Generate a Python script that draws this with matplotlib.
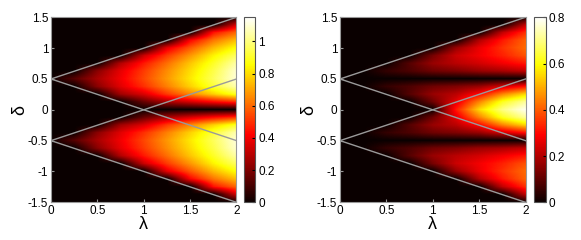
import numpy as np
import matplotlib
matplotlib.use("Agg")
import matplotlib.pyplot as plt

plt.rcParams["font.family"] = ["Liberation Sans", "DejaVu Sans"]

lam = [0, 0.25, 0.5, 0.75, 1.0, 1.25, 1.5, 1.75, 2.0]
delta = [1.5, 1.375, 1.25, 1.125, 1.0, 0.875, 0.75, 0.625, 0.5, 0.375, 0.25, 0.125, 0.0,
         -0.125, -0.25, -0.375, -0.5, -0.625, -0.75, -0.875, -1.0, -1.125, -1.25, -1.375, -1.5]

# left panel (rows: delta from 1.5 down to -1.5, cols: lambda 0..2)
left_vals = [
    [0, 0, 0,    0,    0,    0,    0,    0,    0],
    [0, 0, 0,    0,    0,    0,    0,    0,    0.35],
    [0, 0, 0,    0,    0,    0,    0,    0.45, 0.60],
    [0, 0, 0,    0,    0,    0,    0.42, 0.62, 0.75],
    [0, 0, 0,    0,    0,    0.38, 0.57, 0.74, 0.87],
    [0, 0, 0,    0,    0.33, 0.52, 0.68, 0.84, 0.97],
    [0, 0, 0,    0.29, 0.46, 0.61, 0.76, 0.90, 1.05],
    [0, 0, 0.22, 0.38, 0.52, 0.66, 0.80, 0.94, 1.10],
    [0, 0.13, 0.27, 0.40, 0.54, 0.68, 0.82, 0.96, 1.11],
    [0, 0, 0.22, 0.37, 0.50, 0.64, 0.78, 0.92, 1.06],
    [0, 0, 0,    0.26, 0.36, 0.52, 0.65, 0.78, 0.90],
    [0, 0, 0,    0,    0.16, 0.27, 0.35, 0.43, 0.50],
    [0, 0, 0,    0,    0,    0,    0,    0,    0],
    [0, 0, 0,    0,    0.16, 0.27, 0.35, 0.43, 0.50],
    [0, 0, 0,    0.26, 0.36, 0.52, 0.65, 0.78, 0.90],
    [0, 0, 0.22, 0.37, 0.50, 0.64, 0.78, 0.92, 1.06],
    [0, 0.13, 0.27, 0.40, 0.54, 0.68, 0.82, 0.96, 1.11],
    [0, 0, 0.22, 0.38, 0.52, 0.66, 0.80, 0.94, 1.10],
    [0, 0, 0,    0.29, 0.46, 0.61, 0.76, 0.90, 1.05],
    [0, 0, 0,    0,    0.33, 0.52, 0.68, 0.84, 0.97],
    [0, 0, 0,    0,    0,    0.38, 0.57, 0.74, 0.87],
    [0, 0, 0,    0,    0,    0,    0.42, 0.62, 0.75],
    [0, 0, 0,    0,    0,    0,    0,    0.45, 0.60],
    [0, 0, 0,    0,    0,    0,    0,    0,    0.35],
    [0, 0, 0,    0,    0,    0,    0,    0,    0],
]

# right panel
right_vals = [
    [0, 0, 0,    0,    0,    0,    0,    0,    0],
    [0, 0, 0,    0,    0,    0,    0,    0,    0.22],
    [0, 0, 0,    0,    0,    0,    0,    0.22, 0.35],
    [0, 0, 0,    0,    0,    0,    0.20, 0.32, 0.41],
    [0, 0, 0,    0,    0,    0.17, 0.27, 0.35, 0.42],
    [0, 0, 0,    0,    0.13, 0.23, 0.28, 0.33, 0.39],
    [0, 0, 0,    0.09, 0.17, 0.21, 0.24, 0.28, 0.32],
    [0, 0, 0.05, 0.08, 0.12, 0.14, 0.17, 0.19, 0.22],
    [0, 0, 0,    0,    0,    0,    0,    0,    0],
    [0, 0, 0.05, 0.08, 0.12, 0.14, 0.17, 0.24, 0.31],
    [0, 0, 0,    0.09, 0.17, 0.21, 0.30, 0.45, 0.55],
    [0, 0, 0,    0,    0.12, 0.26, 0.45, 0.62, 0.72],
    [0, 0, 0,    0,    0,    0.32, 0.55, 0.70, 0.79],
    [0, 0, 0,    0,    0.12, 0.26, 0.45, 0.62, 0.72],
    [0, 0, 0,    0.09, 0.17, 0.21, 0.30, 0.45, 0.55],
    [0, 0, 0.05, 0.08, 0.12, 0.14, 0.17, 0.24, 0.31],
    [0, 0, 0,    0,    0,    0,    0,    0,    0],
    [0, 0, 0.05, 0.08, 0.12, 0.14, 0.17, 0.19, 0.22],
    [0, 0, 0,    0.09, 0.17, 0.21, 0.24, 0.28, 0.32],
    [0, 0, 0,    0,    0.13, 0.23, 0.28, 0.33, 0.39],
    [0, 0, 0,    0,    0,    0.17, 0.27, 0.35, 0.42],
    [0, 0, 0,    0,    0,    0,    0.20, 0.32, 0.41],
    [0, 0, 0,    0,    0,    0,    0,    0.22, 0.35],
    [0, 0, 0,    0,    0,    0,    0,    0,    0.22],
    [0, 0, 0,    0,    0,    0,    0,    0,    0],
]

# boundary lines (lambda 0 -> 2)
line_lam = [0, 2]
line_delta = [[0.5, 1.5], [0.5, -0.5], [-0.5, 0.5], [-0.5, -1.5]]

xticks = [0, 0.5, 1, 1.5, 2]
xticklabels = ["0", "0.5", "1", "1.5", "2"]
yticks = [-1.5, -1, -0.5, 0, 0.5, 1, 1.5]
yticklabels = ["-1.5", "-1", "-0.5", "0", "0.5", "1", "1.5"]

left_cb = ([0, 0.2, 0.4, 0.6, 0.8, 1], ["0", "0.2", "0.4", "0.6", "0.8", "1"], 1.15)
right_cb = ([0, 0.2, 0.4, 0.6, 0.8], ["0", "0.2", "0.4", "0.6", "0.8"], 0.8)

W, H = 581, 240
fig = plt.figure(figsize=(W / 100, H / 100), dpi=100)

panels = [
    (left_vals, left_cb, 51, 244),
    (right_vals, right_cb, 340, 534),
]

dl = lam[1] - lam[0]
dd = delta[0] - delta[1]
for vals, (cticks, clabels, vmax), x0, cx0 in panels:
    ax = fig.add_axes([x0 / W, 1 - 202.3 / H, 185.5 / W, 185 / H])
    img = ax.imshow(np.array(vals), cmap="hot", vmin=0, vmax=vmax,
                    interpolation="bilinear", interpolation_stage="data",
                    extent=(lam[0] - dl / 2, lam[-1] + dl / 2,
                            delta[-1] - dd / 2, delta[0] + dd / 2),
                    aspect="auto")
    for ld in line_delta:
        ax.plot(line_lam, ld, color="#9a9a9a", lw=1.0)
    ax.set_xlim(0, 2)
    ax.set_ylim(-1.5, 1.5)
    ax.set_xticks(xticks)
    ax.set_xticklabels(xticklabels)
    ax.set_yticks(yticks)
    ax.set_yticklabels(yticklabels)
    ax.tick_params(direction="in", length=2, labelsize=8.5, pad=2, color="#999999")
    for s in ax.spines.values():
        s.set_color("#999999")
        s.set_linewidth(0.8)
    ax.set_xlabel("λ", fontsize=13, labelpad=-1)
    ax.set_ylabel("δ", fontsize=13, labelpad=0)

    cax = fig.add_axes([cx0 / W, 1 - 202.3 / H, 11.5 / W, 185 / H])
    cb = fig.colorbar(img, cax=cax)
    cb.set_ticks(cticks)
    cb.set_ticklabels(clabels)
    cb.ax.tick_params(direction="in", length=2, labelsize=8.5, pad=2)
    cb.outline.set_edgecolor("#555555")
    cb.outline.set_linewidth(0.8)

fig.savefig("out.png", dpi=100)
